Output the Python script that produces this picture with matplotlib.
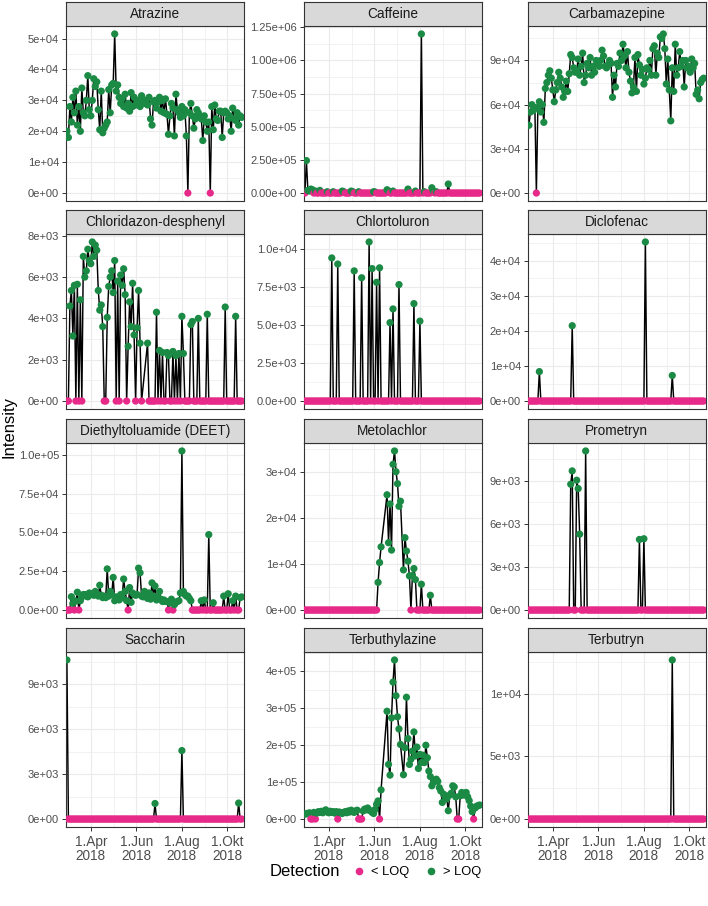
import numpy as np
import pandas as pd
import matplotlib
matplotlib.use("Agg")
import matplotlib.pyplot as plt
from matplotlib.lines import Line2D

plt.rcParams['font.family'] = ['Liberation Sans', 'DejaVu Sans']

nan = np.nan

# sampling grid (every second day)
sample_dates = pd.date_range("2018-02-28", periods=118, freq="2D")

compounds = [
    "Atrazine", "Caffeine", "Carbamazepine",
    "Chloridazon-desphenyl", "Chlortoluron", "Diclofenac",
    "Diethyltoluamide (DEET)", "Metolachlor", "Prometryn",
    "Saccharin", "Terbuthylazine", "Terbutryn",
]

# dense series, values in 1e3
atrazine_k = [
    20, 18, 28, 23, 31, 26, 33, 22, 28, 20,
    34, 26, 25, 30, 38, 27, 25, 30, 37, 34.5,
    36, 27, 20.5, 33, 19.5, 21, 22, 23, 33.5, 26,
    35, 35.5, 51.5, 33, 35, 31, 29, 30.5, 28, 32,
    27.5, 29, 26.5, 32.5, 28, 31, 28.5, 29.5, 30, 28,
    31.5, 30, 29, 30, 28.5, 31, 24, 22, 29.5, 30,
    27.5, 29.5, 31, 26.5, 30, 26, 30.5, 25.5, 19, 25,
    29, 27.5, 18.5, 32, 27, 26, 24.5, 28, 25, 27,
    18.5, 0, 26, 29, 25, 21, 24, 27, 26, 25,
    24, 17, 25, 23, 20, 23, 0, 28, 20.5, 28.5,
    24, 23.5, 26.5, 26.5, 18, 26, 26.5, 26, 24, 25,
    20, 27.5, 24, 23.5, 26, 22, 25, 24.5,
]
carbamazepine_k = [
    46, 55, 60, 56, 58, 0, 58, 62, 55, 60,
    48, 71, 75, 80, 83, 78, 70, 62, 70, 75,
    82, 78, 72, 65, 69, 76, 69, 81, 94, 92,
    85, 82, 83, 91, 80, 86, 95, 75, 80, 88,
    85, 92, 80, 86, 82, 90, 88, 86, 90, 97,
    93, 86, 85, 87, 90, 88, 65, 80, 72, 88,
    86, 95, 90, 101, 93, 85, 96, 82, 76, 68,
    72, 92, 69, 94, 87, 80, 84, 74, 78, 85,
    84, 90, 80, 98, 100, 80, 95, 92, 106, 105,
    108, 98, 74, 91, 70, 49, 85, 69, 101, 80,
    85, 96, 86, 90, 72, 90, 85, 86, 82, 91,
    85, 88, 67, 70, 64, 75, 77, 78,
]
chloridazon = [
    0, 0, 4600, 5350, 3150, 5600, 0, 5650, 0, 4900,
    0, 7000, 6000, 6300, 7350, 6800, 6650, 7700, 7000, 7550,
    7300, 5350, 4400, 4650, 3600, 0, 0, 4050, 5550, 6000,
    6300, 5250, 6800, 0, 5800, 0, 6100, 5600, 6400, 5150,
    0, 2650, 4800, 3600, 5700, 3200, 0, 3550, 5350, 2800,
    0, nan, nan, nan, 2800, 0, 0, 0, 0, 0,
    4300, 0, 2450, 0, 2350, 0, 0, 2350, 2200, 0,
    0, 2400, 0, 2200, 0, 2300, 0, 4100, 2300, 0,
    0, 0, 0, 3700, 3850, 0, 0, 0, 4000, 0,
    0, 0, 0, 0, 4200, 0, 0, 0, 0, 0,
    0, 0, 0, 0, 0, 0, 4550, 0, 0, 0,
    0, 0, 0, 4100, 0, 0, 0, 0,
]
deet = [
    0, 0, 0, 8600, 4300, 0, 5800, 11500, 0, 6000,
    8500, 10000, 10000, 9000, 8500, 11000, 10000, 10500, 9500, 12000,
    10000, 9000, 16000, 9500, 8000, 9000, 8000, 26500, 9000, 12000,
    10000, 21000, 6000, 8500, 7500, 6500, 10000, 8000, 20000, 12000,
    6000, 0, 14500, 5000, 11000, 10000, 9500, 10000, 27000, 24000,
    9000, 8500, 12000, 8500, 7500, 11000, 7000, 17500, 9000, 15500,
    6500, 8000, 12000, 7000, 5500, 6500, 5500, 5500, 0, 4500,
    7000, 0, 3500, 5000, 5500, 6000, 11000, 102500, 12000, 10000,
    9000, 9000, 7500, 6000, 0, 0, 0, 0, 0, 0,
    6000, 0, 6500, 0, 0, 48600, 0, 0, 4700, 0,
    0, 0, 0, 0, 0, 9000, 0, 0, 10500, 0,
    0, 6000, 0, 9000, 0, 0, 8000, 8500,
]
metolachlor = [
    0, 0, 0, 0, 0, 0, 0, 0, 0, 0,
    0, 0, 0, 0, 0, 0, 0, 0, 0, 0,
    0, 0, 0, 0, 0, 0, 0, 0, 0, 0,
    0, 0, 0, 0, 0, 0, 0, 0, 0, 0,
    0, 0, 0, 0, 0, 0, 0, 0, 0, 6000,
    10300, 13700, nan, nan, nan, 25000, 14600, 23000, 13000, 31600,
    34500, 30000, 27400, 22500, 23600, nan, 8700, 15700, 12800, 10600,
    7400, 0, 7500, 9000, 6600, 0, 0, 0, 5600, 0,
    0, 0, 0, 0, 3200, 0, 0, 0, 0, 0,
    0, 0, 0, 0, 0, 0, 0, 0, 0, 0,
    0, 0, 0, 0, 0, 0, 0, 0, 0, 0,
    0, 0, 0, 0, 0, 0, 0, 0,
]
terbuthylazine = [
    13000, 15000, 14000, 17000, 0, 0, 18000, 0, 16000, 20000,
    18000, 21000, 17000, 22000, 25000, 19000, 17000, 21000, 18000, 20000,
    16000, 20000, 0, 19000, 17000, 15000, 18000, 20000, 17000, 22000,
    19000, 24000, 20000, 18000, 22000, 24000, 0, 0, 0, 22000,
    27000, 25000, 30000, 24000, 22000, 18000, 15000, 26000, 40000, 49000,
    0, 79000, nan, nan, nan, 292000, 148000, 119000, 274000, 371000,
    431000, 334000, 277000, 244000, 202000, nan, 120000, 193000, 330000, 218000,
    148000, 162000, 184000, 236000, 171000, 195000, 137000, 175000, 153000, 173000,
    153000, 200000, 166000, 130000, 115000, 90000, 99000, 105000, 108000, 102000,
    85000, 76000, 45000, 67000, 60000, 55000, 22500, 65000, 70000, 90000,
    87000, 60000, 0, 0, 63000, 72000, 65000, 70000, 72000, 60000,
    50000, 35000, 20000, 0, 30000, 35000, 36000, 38000,
]

# sparse series: detections only, all other samples are < LOQ (0)
caffeine_hits = {
    "2018-03-02": 245000, "2018-03-04": 20000, "2018-03-06": 15000,
    "2018-03-08": 30000, "2018-03-10": 25000, "2018-03-14": 15000,
    "2018-03-20": 20000, "2018-03-30": 10000, "2018-04-07": 10000,
    "2018-04-19": 15000, "2018-04-21": 10000, "2018-05-01": 15000,
    "2018-05-03": 10000, "2018-05-11": 10000, "2018-05-31": 10000,
    "2018-06-02": 8000, "2018-06-18": 25000, "2018-06-20": 15000,
    "2018-06-26": 15000, "2018-07-16": 30000, "2018-07-26": 15000,
    "2018-08-03": 1200000, "2018-08-07": 10000, "2018-08-17": 40000,
    "2018-08-19": 15000, "2018-08-23": 10000, "2018-09-08": 68000,
}
chlortoluron_hits = {
    "2018-04-05": 9400, "2018-04-13": 9000, "2018-05-05": 8550,
    "2018-05-15": 8100, "2018-05-25": 10450, "2018-05-29": 8700,
    "2018-06-04": 7800, "2018-06-08": 8750, "2018-06-22": 5150,
    "2018-06-26": 6050, "2018-07-04": 7650, "2018-07-24": 6400,
    "2018-08-01": 5250,
}
diclofenac_hits = {
    "2018-03-14": 8400, "2018-04-27": 21500, "2018-08-03": 45400,
    "2018-09-08": 7300,
}
prometryn_hits = {
    "2018-04-25": 8770, "2018-04-27": 9700, "2018-05-03": 9050,
    "2018-05-05": 8470, "2018-05-07": 5290, "2018-05-15": 11090,
    "2018-07-26": 4920, "2018-08-01": 4970,
}
saccharin_hits = {
    "2018-02-28": 10640, "2018-06-26": 1040, "2018-08-01": 4580,
    "2018-10-16": 1070,
}
terbutryn_hits = {"2018-09-08": 12700}

y_breaks = {
    "Atrazine": [0, 1e4, 2e4, 3e4, 4e4, 5e4],
    "Caffeine": [0, 2.5e5, 5e5, 7.5e5, 1e6, 1.25e6],
    "Carbamazepine": [0, 3e4, 6e4, 9e4],
    "Chloridazon-desphenyl": [0, 2e3, 4e3, 6e3, 8e3],
    "Chlortoluron": [0, 2.5e3, 5e3, 7.5e3, 1e4],
    "Diclofenac": [0, 1e4, 2e4, 3e4, 4e4],
    "Diethyltoluamide (DEET)": [0, 2.5e4, 5e4, 7.5e4, 1e5],
    "Metolachlor": [0, 1e4, 2e4, 3e4],
    "Prometryn": [0, 3e3, 6e3, 9e3],
    "Saccharin": [0, 3e3, 6e3, 9e3],
    "Terbuthylazine": [0, 1e5, 2e5, 3e5, 4e5],
    "Terbutryn": [0, 5e3, 1e4],
}

x_breaks = pd.to_datetime(["2018-04-01", "2018-06-01", "2018-08-01", "2018-10-01"])
x_labels = ["1.Apr\n2018", "1.Jun\n2018", "1.Aug\n2018", "1.Okt\n2018"]
x_lo = pd.Timestamp("2018-02-26 19:00")
x_hi = pd.Timestamp("2018-10-22 12:00")

PINK = "#E7298A"
GREEN = "#1B8A45"


def sparse_series(hits):
    s = pd.Series(0.0, index=sample_dates)
    for d, v in hits.items():
        s.loc[pd.Timestamp(d)] = v
    return s.sort_index()


series = {
    "Atrazine": pd.Series(np.array(atrazine_k) * 1000, index=sample_dates),
    "Caffeine": sparse_series(caffeine_hits),
    "Carbamazepine": pd.Series(np.array(carbamazepine_k) * 1000, index=sample_dates),
    "Chloridazon-desphenyl": pd.Series(chloridazon, index=sample_dates, dtype=float),
    "Chlortoluron": sparse_series(chlortoluron_hits),
    "Diclofenac": sparse_series(diclofenac_hits),
    "Diethyltoluamide (DEET)": pd.Series(deet, index=sample_dates, dtype=float),
    "Metolachlor": pd.Series(metolachlor, index=sample_dates, dtype=float),
    "Prometryn": sparse_series(prometryn_hits),
    "Saccharin": sparse_series(saccharin_hits),
    "Terbuthylazine": pd.Series(terbuthylazine, index=sample_dates, dtype=float),
    "Terbutryn": sparse_series(terbutryn_hits),
}


def sci_labels(ticks):
    # same number of mantissa digits for the whole axis, like R's format()
    for d in range(4):
        ok = all(abs(float(f"{t:.{d}e}") - t) <= 1e-9 * max(abs(t), 1) for t in ticks)
        if ok:
            break
    return [f"{t:.{d}e}" for t in ticks]


W, H = 708, 906
col_left = [66, 304, 528]
row_top = [26, 234, 443, 652]
panel_w, panel_h, strip_h = 177.5, 175, 24

fig = plt.figure(figsize=(W / 100, H / 100), dpi=100)

x_minor = [x_breaks[i] + (x_breaks[i + 1] - x_breaks[i]) / 2 for i in range(len(x_breaks) - 1)]

for k, name in enumerate(compounds):
    r, c = divmod(k, 3)
    left, top = col_left[c], row_top[r]
    ax = fig.add_axes([left / W, 1 - (top + panel_h) / H, panel_w / W, panel_h / H])
    s = series[name].dropna()
    ax.plot(s.index, s.values, color="black", lw=1.05, zorder=2)
    cols = np.where(s.values > 0, GREEN, PINK)
    ax.scatter(s.index, s.values, c=cols, s=27, linewidths=0, zorder=3)

    ymax = s.max()
    ax.set_ylim(-0.05 * ymax, 1.05 * ymax)
    ticks = y_breaks[name]
    step = ticks[1] - ticks[0]
    ax.set_yticks(ticks)
    ax.set_yticklabels(sci_labels(ticks))
    ymin_lim, ymax_lim = ax.get_ylim()
    minors = [t + step / 2 for t in ticks if ymin_lim < t + step / 2 < ymax_lim]
    ax.set_yticks(minors, minor=True)

    ax.set_xlim(x_lo, x_hi)
    ax.set_xticks(x_breaks)
    ax.set_xticks(x_minor, minor=True)
    ax.grid(which="major", color="#EBEBEB", lw=0.85)
    ax.grid(which="minor", color="#EBEBEB", lw=0.45)
    ax.set_axisbelow(True)

    ax.tick_params(which="minor", length=0)
    ax.tick_params(axis="y", which="major", length=3, width=0.7, color="#333333",
                   labelsize=8, labelcolor="#4D4D4D", pad=2)
    if r == 3:
        ax.set_xticklabels(x_labels)
        ax.tick_params(axis="x", which="major", length=3, width=0.7, color="#333333",
                       labelsize=9.8, labelcolor="#4D4D4D", pad=3)
        for lab in ax.get_xticklabels():
            lab.set_linespacing(0.95)
    else:
        ax.tick_params(axis="x", which="major", length=0, labelbottom=False)
    for sp in ax.spines.values():
        sp.set_color("#333333")
        sp.set_linewidth(0.8)

    sax = fig.add_axes([left / W, 1 - top / H, panel_w / W, strip_h / H])
    sax.set_facecolor("#D9D9D9")
    sax.set_xticks([])
    sax.set_yticks([])
    for sp in sax.spines.values():
        sp.set_color("#333333")
        sp.set_linewidth(0.8)
    sax.text(0.5, 0.5, name, ha="center", va="center", fontsize=9.8, color="#1A1A1A",
             transform=sax.transAxes)

fig.text(9 / W, 1 - 427 / H, "Intensity", rotation=90, ha="center", va="center", fontsize=12)

fig.text(270 / W, 1 - 872 / H, "Detection", ha="left", va="center", fontsize=12)
handles = [
    Line2D([], [], ls="none", marker="o", markersize=5.5, markerfacecolor=PINK, markeredgewidth=0),
    Line2D([], [], ls="none", marker="o", markersize=5.5, markerfacecolor=GREEN, markeredgewidth=0),
]
fig.legend(handles, ["< LOQ", "> LOQ"], loc="center left", bbox_to_anchor=(353 / W, 1 - 872 / H),
           ncol=2, frameon=False, fontsize=9.3, handlelength=1.0, handletextpad=0.4,
           columnspacing=1.2, borderpad=0, borderaxespad=0)

fig.savefig("out.png", dpi=100)
